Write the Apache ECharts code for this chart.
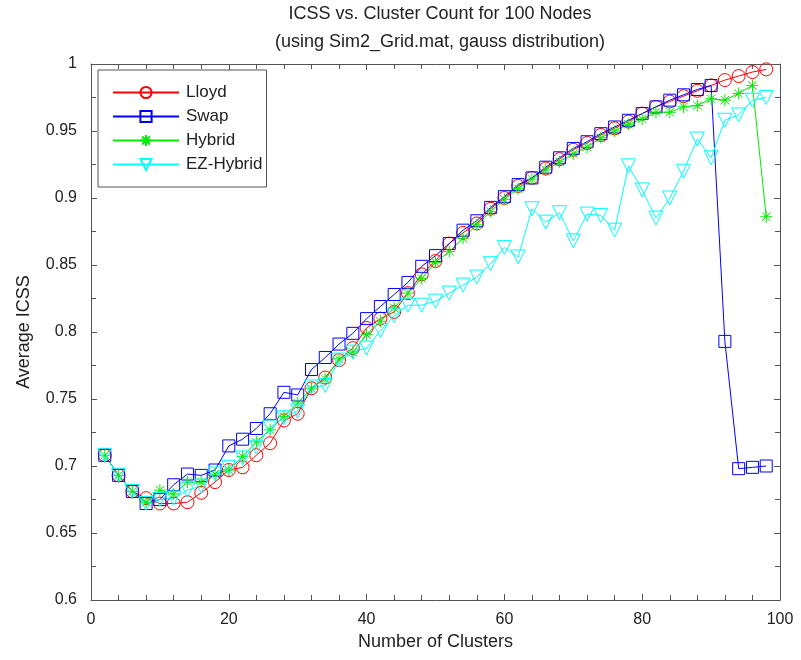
<!DOCTYPE html>
<html>
<head>
<meta charset="utf-8">
<script src="https://cdn.jsdelivr.net/npm/echarts@6/dist/echarts.min.js"></script>
<style>html,body{margin:0;padding:0;background:#fff}#c{width:801px;height:660px}</style>
</head>
<body>
<div id="c"></div>
<script>
var clusters = [2,4,6,8,10,12,14,16,18,20,22,24,26,28,30,32,34,36,38,40,42,44,46,48,50,52,54,56,58,60,62,64,66,68,70,72,74,76,78,80,82,84,86,88,90,92,94,96,98];
var lloyd = [0.708,0.693,0.681,0.676,0.672,0.672,0.673,0.680,0.688,0.697,0.699,0.708,0.717,0.734,0.739,0.758,0.766,0.779,0.788,0.803,0.810,0.815,0.829,0.843,0.853,0.866,0.874,0.881,0.892,0.900,0.909,0.915,0.922,0.929,0.936,0.941,0.947,0.952,0.957,0.963,0.968,0.972,0.976,0.980,0.984,0.988,0.991,0.994,0.996];
var swap = [0.708,0.693,0.681,0.672,0.675,0.686,0.694,0.693,0.697,0.715,0.720,0.728,0.739,0.755,0.753,0.772,0.781,0.791,0.799,0.810,0.819,0.828,0.837,0.849,0.857,0.866,0.876,0.883,0.893,0.901,0.910,0.915,0.923,0.930,0.937,0.942,0.948,0.953,0.958,0.963,0.968,0.973,0.977,0.981,0.984,0.793,0.698,0.699,0.700];
var hybrid = [0.708,0.693,0.681,0.673,0.682,0.679,0.688,0.688,0.694,0.697,0.707,0.718,0.727,0.737,0.747,0.758,0.765,0.780,0.785,0.798,0.808,0.818,0.829,0.840,0.852,0.860,0.870,0.880,0.890,0.899,0.907,0.914,0.921,0.927,0.933,0.938,0.945,0.950,0.955,0.959,0.964,0.964,0.968,0.969,0.974,0.973,0.978,0.984,0.886];
var ezHybrid = [0.708,0.693,0.681,0.672,0.675,0.676,0.682,0.685,0.694,0.699,0.706,0.714,0.729,0.736,0.741,0.759,0.760,0.779,0.785,0.788,0.801,0.812,0.820,0.820,0.823,0.829,0.835,0.841,0.851,0.863,0.856,0.892,0.882,0.889,0.868,0.888,0.887,0.876,0.924,0.906,0.885,0.900,0.920,0.944,0.930,0.958,0.962,0.973,0.975];
var seriesNames = ['Lloyd','Swap','Hybrid','EZ-Hybrid'];
var xTicks = [0,20,40,60,80,100];
var yTicks = [0.6,0.65,0.7,0.75,0.8,0.85,0.9,0.95,1];

var FONT = 'Liberation Sans, Arial, Helvetica, sans-serif';
var sym = {
  circle: 'path://M1,0A1,1,0,1,1,-1,0A1,1,0,1,1,1,0Z',
  square: 'path://M-1,-1L1,-1L1,1L-1,1Z',
  star: 'path://M0,-1L0,1M-1,0L1,0M-0.7,-0.7L0.7,0.7M-0.7,0.7L0.7,-0.7',
  tri: 'path://M-1,-0.9L1,-0.9L0,0.9Z'
};
function pair(arr){ return clusters.map(function(c,i){ return [c, arr[i]]; }); }
function mk(name, data, color, symbol, size){
  return {
    name: name, type: 'line', data: pair(data),
    symbol: symbol, symbolSize: size, symbolKeepAspect: false,
    showAllSymbol: true,
    lineStyle: {color: color, width: 1},
    itemStyle: {color: 'rgba(0,0,0,0)', borderColor: color, borderWidth: 1},
    emphasis: {disabled: true},
    animation: false
  };
}
var axisCol = '#555';
function xAx(pos, show){
  return {
    type: 'value', position: pos, min: 0, max: 100, interval: 20,
    axisLine: {show: true, onZero: false, lineStyle: {color: axisCol, width: 1}},
    axisTick: {show: true, inside: true, length: 6, lineStyle: {color: axisCol}},
    minorTick: {show: true, splitNumber: 5, length: 5, lineStyle: {color: axisCol}},
    splitLine: {show: false},
    axisLabel: {show: show, color: '#222', fontSize: 16, fontFamily: FONT, margin: 12},
    name: show ? 'Number of Clusters' : '', nameLocation: 'middle', nameGap: 28,
    nameTextStyle: {color: '#222', fontSize: 18, fontFamily: FONT}
  };
}
function yAx(pos, show){
  return {
    type: 'value', position: pos, min: 0.6, max: 1, interval: 0.05,
    axisLine: {show: true, onZero: false, lineStyle: {color: axisCol, width: 1}},
    axisTick: {show: true, inside: true, length: 6, lineStyle: {color: axisCol}},
    minorTick: {show: true, splitNumber: 2, length: 5, lineStyle: {color: axisCol}},
    splitLine: {show: false},
    axisLabel: {show: show, color: '#222', fontSize: 16, fontFamily: FONT, margin: 14,
      formatter: function(v){ return String(+v.toFixed(2)); }},
    name: show ? 'Average ICSS' : '', nameLocation: 'middle', nameGap: 58, nameRotate: 90,
    nameTextStyle: {color: '#222', fontSize: 18, fontFamily: FONT}
  };
}
var chart = echarts.init(document.getElementById('c'), null, {renderer: 'canvas'});
chart.setOption({
  backgroundColor: '#fff',
  animation: false,
  title: {
    text: 'ICSS vs. Cluster Count for 100 Nodes\n(using Sim2_Grid.mat, gauss distribution)',
    left: 435, top: -5, textAlign: 'center',
    textStyle: {fontSize: 18, fontWeight: 'normal', color: '#222', fontFamily: FONT, lineHeight: 28}
  },
  grid: {left: 91, right: 21, top: 64, bottom: 60, containLabel: false},
  legend: {
    data: seriesNames, orient: 'vertical', left: 98, top: 70,
    padding: [14, 4, 14, 14], itemGap: 7, itemWidth: 66, itemHeight: 14,
    borderColor: '#555', borderWidth: 1, backgroundColor: '#fff',
    textStyle: {fontSize: 17, color: '#222', fontFamily: FONT, padding: [0, 0, 0, 2]},
    selectedMode: false
  },
  xAxis: [xAx('bottom', true), xAx('top', false)],
  yAxis: [yAx('left', true), yAx('right', false)],
  series: [
    mk('Lloyd', lloyd, '#ff0000', sym.circle, 13),
    mk('Swap', swap, '#0000ff', sym.square, 12),
    mk('Hybrid', hybrid, '#00ee00', sym.star, 12),
    mk('EZ-Hybrid', ezHybrid, '#00ffff', sym.tri, 14)
  ]
});
</script>
</body>
</html>
